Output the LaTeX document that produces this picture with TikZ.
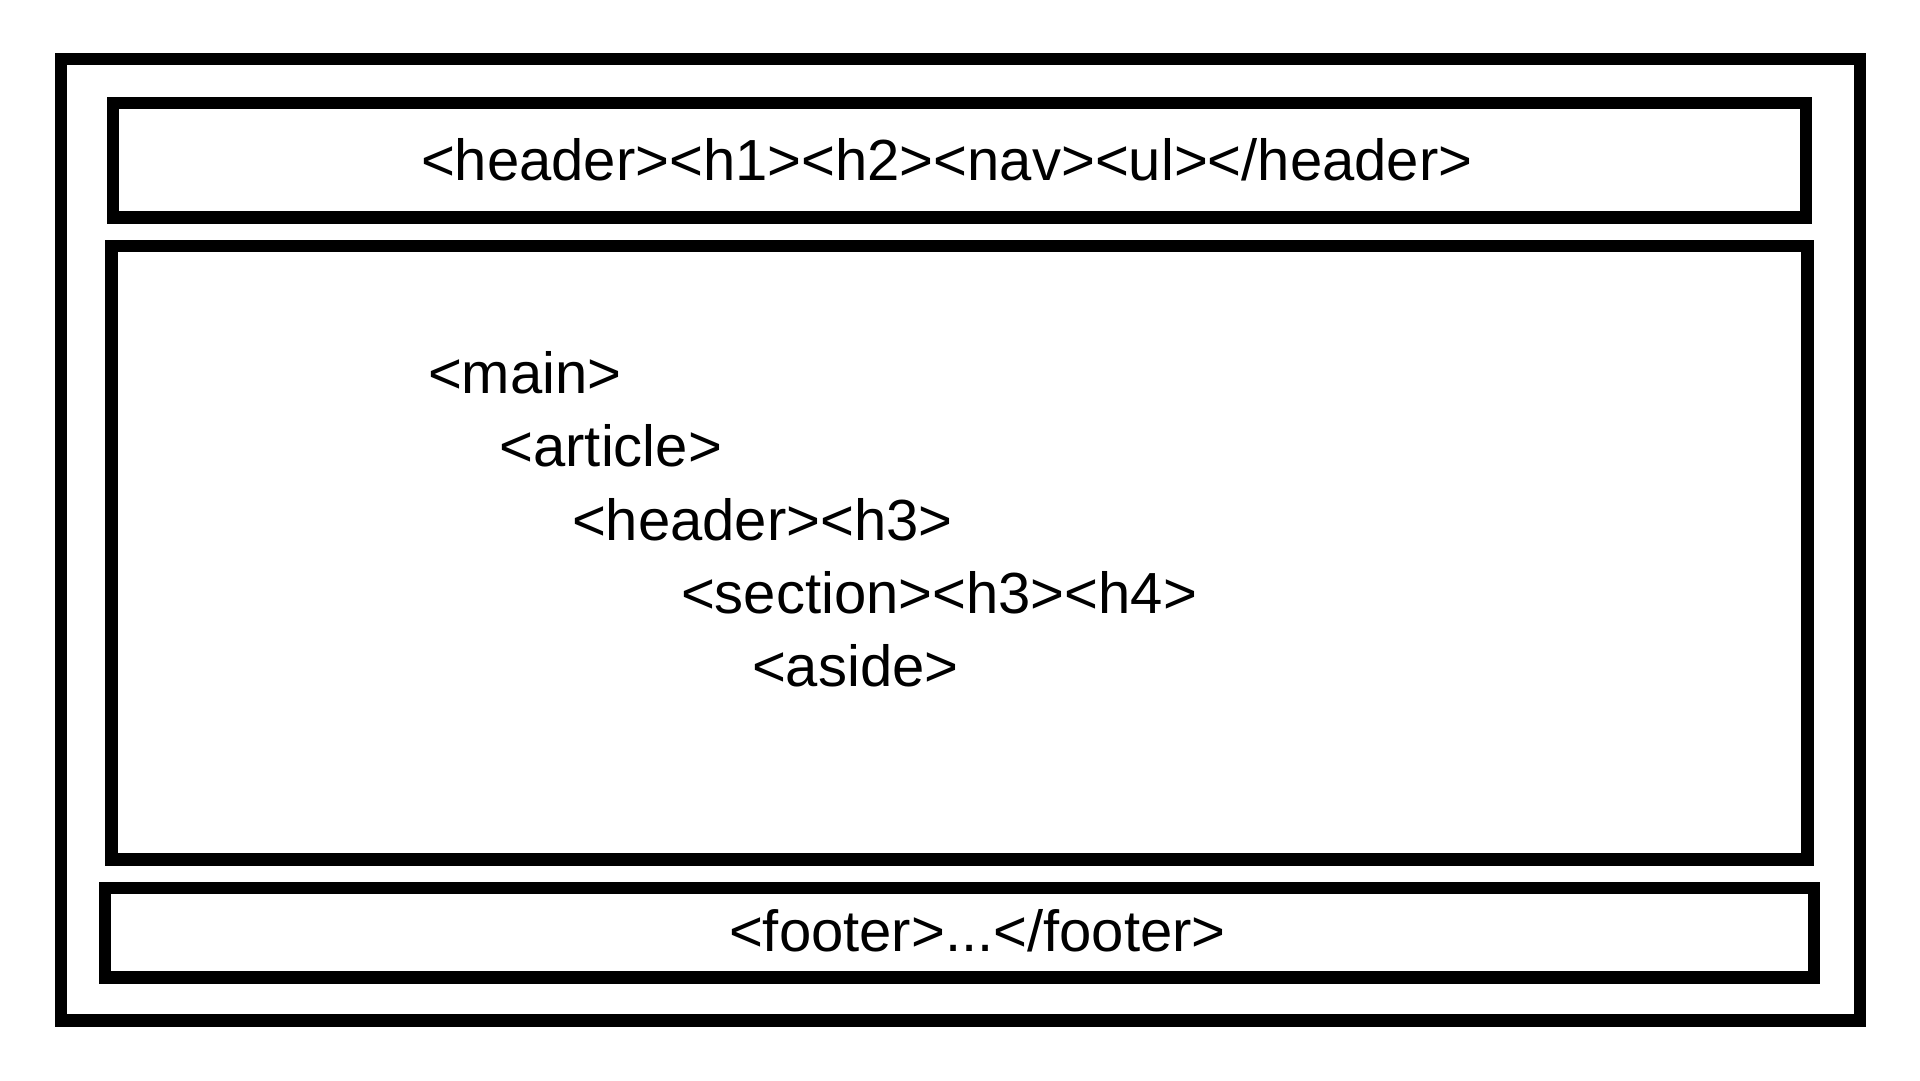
\documentclass[tikz,border=0pt]{standalone}
\usepackage{fontspec}
\setmainfont{Liberation Sans}
\begin{document}
\begin{tikzpicture}[x=1pt,y=-1pt,
  frame/.style={draw=black, line width=12.3pt, fill=none, inner sep=0pt, outer sep=0pt},
  tag/.style={anchor=base west, inner sep=0pt, outer sep=0pt, font=\fontsize{58}{66}\selectfont}]
\useasboundingbox[fill=white] (0,0) rectangle (1920,1080);
% boxes (centerline coordinates)
\node[frame, minimum width=1798.8pt, minimum height=961.3pt] (outer) at (960.6,539.85) {};
\node[frame, minimum width=1692.5pt, minimum height=114.3pt] (hdr) at (959.45,160.35) {};
\node[frame, minimum width=1696pt, minimum height=613.2pt] (mainbox) at (959.5,552.9) {};
\node[frame, minimum width=1708.7pt, minimum height=89.3pt] (ftr) at (959.65,932.85) {};
% texts
\node[tag] (t1) at (421,180) {<header><h1><h2><nav><ul></header>};
\node[tag] (t2) at (428,393.5) {<main>};
\node[tag] (t3) at (499.5,466.7) {<article>};
\node[tag] (t4) at (572,540) {<header><h3>};
\node[tag] (t5) at (681,613) {<section><h3><h4>};
\node[tag] (t6) at (752,686.7) {<aside>};
\node[tag] (t7) at (729,951) {<footer>...</footer>};
\end{tikzpicture}
\end{document}
